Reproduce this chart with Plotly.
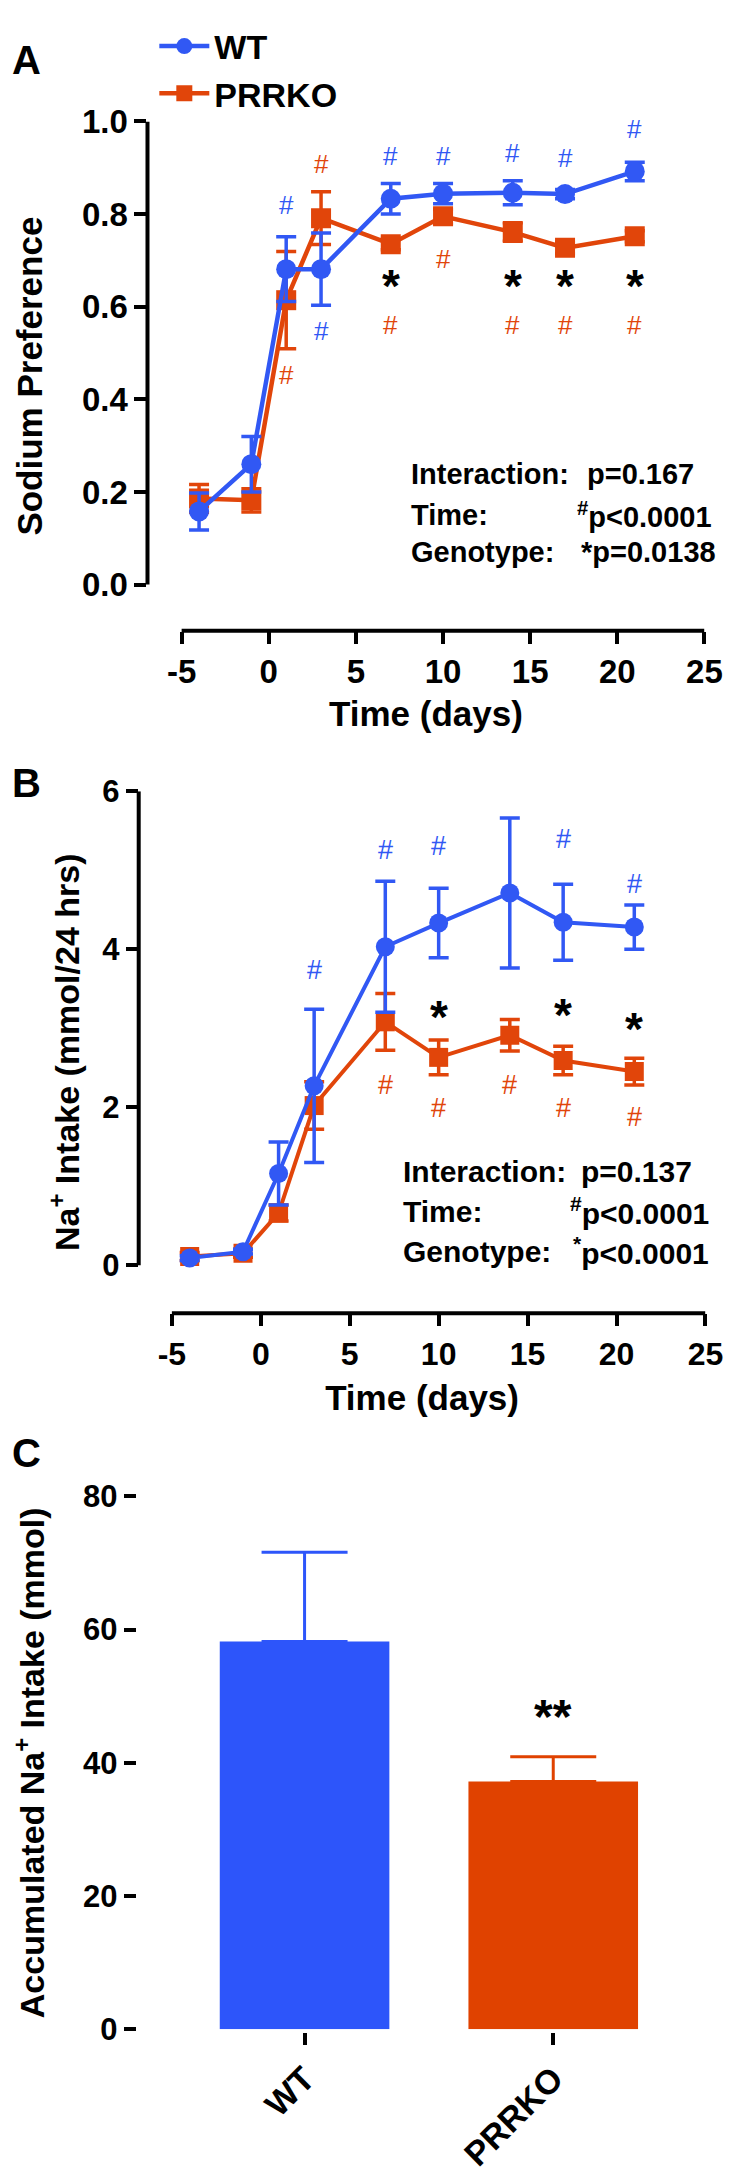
import plotly.graph_objects as go

# ---------------- data ----------------
days = [-4, -1, 1, 3, 7, 10, 14, 17, 21]

pref_wt = [0.158, 0.26, 0.681, 0.681, 0.833, 0.844, 0.846, 0.843, 0.892]
pref_wt_sem = [0.04, 0.06, 0.07, 0.078, 0.033, 0.022, 0.026, 0.01, 0.02]
pref_ko = [0.186, 0.182, 0.614, 0.791, 0.735, 0.795, 0.761, 0.727, 0.752]
pref_ko_sem = [0.03, 0.025, 0.105, 0.057, 0.012, 0.015, 0.02, 0.012, 0.012]

intake_wt = [0.09, 0.17, 1.16, 2.27, 4.03, 4.33, 4.71, 4.34, 4.28]
intake_wt_sem = [0.03, 0.03, 0.4, 0.97, 0.83, 0.44, 0.95, 0.48, 0.28]
intake_ko = [0.11, 0.15, 0.66, 2.02, 3.08, 2.63, 2.91, 2.59, 2.45]
intake_ko_sem = [0.05, 0.05, 0.1, 0.3, 0.36, 0.22, 0.2, 0.18, 0.17]

groups = ["WT", "PRRKO"]
accum = [58.2, 37.2]
accum_sem = [13.4, 3.7]

# significance marks (day, label y in data units)
a_hash_wt_days = [1, 3, 7, 10, 14, 17, 21]
a_hash_wt_y = [0.819, 0.547, 0.926, 0.926, 0.931, 0.922, 0.984]
a_hash_ko_days = [1, 3, 7, 10, 14, 17, 21]
a_hash_ko_y = [0.453, 0.908, 0.56, 0.704, 0.56, 0.56, 0.56]
a_star_days = [7, 14, 17, 21]
a_star_y = [0.664, 0.664, 0.664, 0.664]

b_hash_wt_days = [3, 7, 10, 14, 17, 21]
b_hash_wt_y = [3.74, 5.25, 5.31, 6.10, 5.39, 4.82]
b_hash_ko_days = [7, 10, 14, 17, 21]
b_hash_ko_y = [2.28, 1.99, 2.28, 1.99, 1.88]
b_star_days = [10, 17, 21]
b_star_y = [3.26, 3.28, 3.10]

stats_a = [("Interaction:", "p=0.167"),
           ("Time:", "<sup>#</sup>p&lt;0.0001"),
           ("Genotype:", "*p=0.0138")]
stats_b = [("Interaction:", "p=0.137"),
           ("Time:", "<sup>#</sup>p&lt;0.0001"),
           ("Genotype:", "<sup>*</sup>p&lt;0.0001")]

x_ticks = [-5, 0, 5, 10, 15, 20, 25]
x_ticklabels = ["-5", "0", "5", "10", "15", "20", "25"]

# ---------------- style ----------------
W, H = 733, 2176
FONT = "Liberation Sans, Arial, Helvetica, sans-serif"
BLUE = "#3158F4"
ORANGE = "#E1450A"
BAR_BLUE = "#2D55FA"
BAR_ORANGE = "#E04200"


def fx(px):
    return px / W


def fy(py):
    return 1 - py / H


fig = go.Figure()

# ---------------- panel A ----------------
for name, yv, se, col, sym, z in [("WT", pref_wt, pref_wt_sem, BLUE, "circle", 2),
                                  ("PRRKO", pref_ko, pref_ko_sem, ORANGE, "square", 1)]:
    fig.add_trace(go.Scatter(
        x=days, y=yv, name=name, mode="lines+markers", zorder=z,
        line=dict(color=col, width=4.5),
        marker=dict(symbol=sym, size=20, color=col),
        error_y=dict(type="data", array=se, color=col, thickness=3.5, width=10),
        xaxis="x", yaxis="y", cliponaxis=False, showlegend=True,
    ))

# ---------------- panel B ----------------
for name, yv, se, col, sym, z in [("WT", intake_wt, intake_wt_sem, BLUE, "circle", 2),
                                  ("PRRKO", intake_ko, intake_ko_sem, ORANGE, "square", 1)]:
    fig.add_trace(go.Scatter(
        x=days, y=yv, name=name, mode="lines+markers", zorder=z,
        line=dict(color=col, width=4),
        marker=dict(symbol=sym, size=19, color=col),
        error_y=dict(type="data", array=se, color=col, thickness=3.5, width=10),
        xaxis="x2", yaxis="y2", cliponaxis=False, showlegend=False,
    ))

# ---------------- panel C ----------------
for g, v, s, col in zip(groups, accum, accum_sem, [BAR_BLUE, BAR_ORANGE]):
    fig.add_trace(go.Bar(
        x=[g], y=[v], width=0.682, marker=dict(color=col, line=dict(width=0)),
        error_y=dict(type="data", array=[s], arrayminus=[0], symmetric=False,
                     color=col, thickness=3, width=43),
        xaxis="x3", yaxis="y3", showlegend=False,
    ))

axis_common = dict(showgrid=False, zeroline=False, ticks="outside", ticklen=12,
                   tickwidth=4, tickcolor="black", color="black")

fig.update_layout(
    width=W, height=H, margin=dict(l=0, r=0, t=0, b=0),
    paper_bgcolor="white", plot_bgcolor="white", barmode="overlay",
    font=dict(family=FONT, color="black"),
    showlegend=True,
    legend=dict(x=fx(150), y=1.004, xanchor="left", yanchor="top", itemwidth=50,
                font=dict(family=FONT, size=34, weight="bold"),
                bgcolor="rgba(0,0,0,0)", tracegroupgap=0),
    xaxis=dict(domain=[fx(143), fx(714)], range=[-6.959, 25], anchor="y",
               tickvals=x_ticks, ticktext=x_ticklabels, showline=False,
               tickfont=dict(size=33, weight="bold"),
               title=dict(text="Time (days)", font=dict(size=35, weight="bold"), standoff=12),
               **axis_common),
    yaxis=dict(domain=[fy(615), fy(97)], range=[-0.0998, 1.0], anchor="x",
               tickvals=[0, 0.2, 0.4, 0.6, 0.8, 1.0], ticktext=["0.0", "0.2", "0.4", "0.6", "0.8", "1.0"],
               showline=False, tickfont=dict(size=33, weight="bold"),
               title=dict(text="Sodium Preference", font=dict(size=35, weight="bold"), standoff=28),
               **axis_common),
    xaxis2=dict(domain=[fx(134), fx(715)], range=[-6.865, 25], anchor="y2",
                tickvals=x_ticks, ticktext=x_ticklabels, showline=False,
                tickfont=dict(size=32, weight="bold"),
                title=dict(text="Time (days)", font=dict(size=35, weight="bold"), standoff=14),
                **axis_common),
    yaxis2=dict(domain=[fy(1309), fy(778)], range=[-0.61, 6], anchor="x2",
                tickvals=[0, 2, 4, 6], showline=False,
                tickfont=dict(size=31, weight="bold"),
                title=dict(text="Na<sup>+</sup> Intake (mmol/24 hrs)",
                           font=dict(size=34, weight="bold"), standoff=12),
                **axis_common),
    xaxis3=dict(domain=[fx(135), fx(728)], range=[-0.663, 1.663], anchor="y3",
                type="category", categoryarray=groups, showline=True, linewidth=4, linecolor="black",
                tickangle=-45, tickfont=dict(size=34, weight="bold"),
                **axis_common),
    yaxis3=dict(domain=[fy(2037), fy(1495)], range=[0, 80], anchor="x3",
                tickvals=[0, 20, 40, 60, 80], showline=True, linewidth=4, linecolor="black",
                tickfont=dict(size=31, weight="bold"),
                title=dict(text="Accumulated Na<sup>+</sup> Intake (mmol)",
                           font=dict(size=34, weight="bold"), standoff=30),
                **axis_common),
)

# axis lines for the offset (GraphPad-style) axes of A and B
shapes = []
for xr, yr, ytop, xlo, xhi in [("x", "y", 1.0, -5, 25), ("x2", "y2", 6, -5, 25)]:
    shapes.append(dict(type="line", xref=f"{xr} domain", yref=yr, x0=0, x1=0, y0=0, y1=ytop,
                       line=dict(color="black", width=4)))
    shapes.append(dict(type="line", xref=xr, yref=f"{yr} domain", x0=xlo, x1=xhi, y0=0, y1=0,
                       line=dict(color="black", width=4)))
fig.update_layout(shapes=shapes)

ann = []
# panel letters
for letter, py in [("A", 35), ("B", 770), ("C", 1451)]:
    ann.append(dict(text=letter, x=fx(19), y=fy(py), xref="paper", yref="paper",
                    showarrow=False, font=dict(size=40, weight="bold"),
                    xanchor="center", yanchor="middle"))


def add_marks(xr, yr, dd, yy, text, col, size, bold, yshift):
    for d, y in zip(dd, yy):
        ann.append(dict(text=text, x=d, y=y, xref=xr, yref=yr, showarrow=False,
                        font=dict(size=size, color=col, weight="bold" if bold else "normal"),
                        xanchor="center", yanchor="middle", yshift=yshift))


add_marks("x", "y", a_hash_wt_days, a_hash_wt_y, "#", BLUE, 26, False, 0)
add_marks("x", "y", a_hash_ko_days, a_hash_ko_y, "#", ORANGE, 26, False, 0)
add_marks("x", "y", a_star_days, a_star_y, "*", "black", 46, True, -9)
add_marks("x2", "y2", b_hash_wt_days, b_hash_wt_y, "#", BLUE, 27, False, 0)
add_marks("x2", "y2", b_hash_ko_days, b_hash_ko_y, "#", ORANGE, 27, False, 0)
add_marks("x2", "y2", b_star_days, b_star_y, "*", "black", 46, True, -9)

# "**" above PRRKO bar
ann.append(dict(text="**", x="PRRKO", y=48.3, xref="x3", yref="y3", showarrow=False,
                font=dict(size=48, weight="bold"), xanchor="center", yanchor="middle", yshift=-9))

# statistics text
for (lab, val), py, vx in zip(stats_a, [456, 497, 535], [705, 724, 728]):
    ann.append(dict(text=lab, x=fx(411), y=fy(py), xref="paper", yref="paper", showarrow=False,
                    font=dict(size=29, weight="bold"), xanchor="left", yanchor="middle"))
    ann.append(dict(text=val, x=fx(vx), y=fy(py), xref="paper", yref="paper", showarrow=False,
                    font=dict(size=29, weight="bold"), xanchor="right", yanchor="middle"))
for (lab, val), py, vx in zip(stats_b, [1165, 1205, 1246], [703, 721, 721]):
    ann.append(dict(text=lab, x=fx(403), y=fy(py), xref="paper", yref="paper", showarrow=False,
                    font=dict(size=30, weight="bold"), xanchor="left", yanchor="middle"))
    ann.append(dict(text=val, x=fx(vx), y=fy(py), xref="paper", yref="paper", showarrow=False,
                    font=dict(size=30, weight="bold"), xanchor="right", yanchor="middle"))

fig.update_layout(annotations=ann)

fig.write_html("out.html")
